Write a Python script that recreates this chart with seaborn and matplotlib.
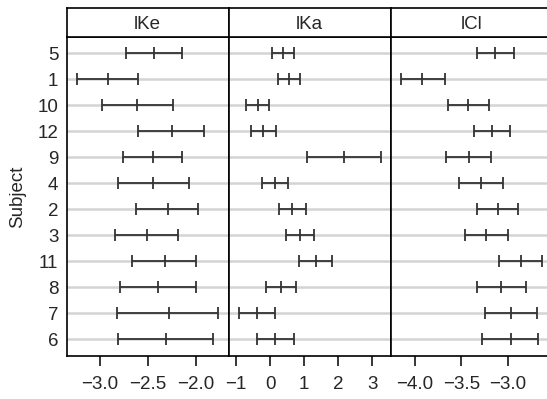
import numpy as np
import pandas as pd
import matplotlib
matplotlib.use("Agg")
import matplotlib.pyplot as plt
import seaborn as sns

# Subjects, top to bottom
subjects = ["5", "1", "10", "12", "9", "4", "2", "3", "11", "8", "7", "6"]

# lKe: lower, estimate, upper
lke_lower = [-2.73, -3.24, -2.98, -2.60, -2.76, -2.81, -2.62, -2.84, -2.66, -2.79, -2.82, -2.81]
lke_est   = [-2.43, -2.92, -2.61, -2.25, -2.45, -2.44, -2.29, -2.51, -2.32, -2.39, -2.28, -2.31]
lke_upper = [-2.14, -2.60, -2.24, -1.91, -2.14, -2.07, -1.97, -2.18, -1.99, -1.99, -1.76, -1.82]

# lKa: lower, estimate, upper
lka_lower = [0.06, 0.24, -0.71, -0.55, 1.08, -0.24, 0.27, 0.47, 0.84, -0.13, -0.92, -0.40]
lka_est   = [0.37, 0.56, -0.37, -0.20, 2.18, 0.14, 0.65, 0.88, 1.34, 0.31, -0.40, 0.14]
lka_upper = [0.69, 0.89, -0.03, 0.17, 3.27, 0.53, 1.05, 1.30, 1.83, 0.75, 0.13, 0.69]

# lCl: lower, estimate, upper
lcl_lower = [-3.33, -4.15, -3.65, -3.37, -3.67, -3.53, -3.33, -3.46, -3.10, -3.33, -3.25, -3.28]
lcl_est   = [-3.14, -3.92, -3.43, -3.17, -3.42, -3.29, -3.11, -3.24, -2.86, -3.07, -2.97, -2.97]
lcl_upper = [-2.94, -3.68, -3.20, -2.98, -3.18, -3.05, -2.89, -3.00, -2.63, -2.81, -2.69, -2.68]

panel_names = ["lKe", "lKa", "lCl"]
panel_ticks = [[-3.0, -2.5, -2.0], [-1, 0, 1, 2, 3], [-4.0, -3.5, -3.0]]
panel_ticklabels = [["\u22123.0", "\u22122.5", "\u22122.0"],
                    ["\u22121", "0", "1", "2", "3"],
                    ["\u22124.0", "\u22123.5", "\u22123.0"]]
panel_xlim = [(-3.348, -1.653), (-1.218, 3.547), (-4.261, -2.519)]

rows = []
for name, lo, est, up in zip(panel_names,
                             [lke_lower, lka_lower, lcl_lower],
                             [lke_est, lka_est, lcl_est],
                             [lke_upper, lka_upper, lcl_upper]):
    for i, s in enumerate(subjects):
        rows.append({"param": name, "Subject": s, "pos": i,
                     "lower": lo[i], "est": est[i], "upper": up[i]})
df = pd.DataFrame(rows)

sns.set_theme(style="white")
plt.rcParams["font.family"] = ["Liberation Sans", "DejaVu Sans"]
plt.rcParams["axes.unicode_minus"] = True

W, H = 547, 399
fig = plt.figure(figsize=(W / 100, H / 100), dpi=100)

edges = [66.7, 228.7, 390.7, 552.7]
p_top, p_bot = 37.0, 355.7
s_top = 8.3
line_col = "#333333"
grid_col = "#d4d4d4"

for k, name in enumerate(panel_names):
    x0, x1 = edges[k], edges[k + 1]
    ax = fig.add_axes([x0 / W, (H - p_bot) / H, (x1 - x0) / W, (p_bot - p_top) / H])
    sub = df[df["param"] == name]

    ax.set_yticks(range(len(subjects)))
    ax.yaxis.grid(True, color=grid_col, lw=1.8, zorder=0)
    ax.xaxis.grid(False)

    ax.hlines(sub["pos"], sub["lower"], sub["upper"], color=line_col, lw=1.3, zorder=3)
    for col in ["lower", "est", "upper"]:
        sns.scatterplot(data=sub, x=col, y="pos", marker="|", s=80,
                        color=line_col, linewidth=1.3, ax=ax, zorder=4, legend=False)

    ax.set_xlim(*panel_xlim[k])
    ax.set_ylim(len(subjects) - 1 + 0.63, -0.63)
    ax.set_xticks(panel_ticks[k])
    ax.set_xticklabels(panel_ticklabels[k])
    ax.set_xlabel("")
    ax.set_ylabel("")
    ax.tick_params(axis="x", direction="out", length=7.5, width=1.1, color="black",
                   labelsize=13.5, pad=7, bottom=True)
    if k == 0:
        ax.set_yticklabels(subjects)
        ax.tick_params(axis="y", length=0, labelsize=13.5, pad=6, left=False)
        ax.set_ylabel("Subject", fontsize=13.5, labelpad=8)
    else:
        ax.set_yticklabels([])
        ax.tick_params(axis="y", length=0, left=False)
    for sp in ax.spines.values():
        sp.set_color("black")
        sp.set_linewidth(1.2)

    # strip above the panel
    sax = fig.add_axes([x0 / W, (H - p_top) / H, (x1 - x0) / W, (p_top - s_top) / H])
    sax.set_xticks([])
    sax.set_yticks([])
    sax.set_facecolor("white")
    for sp in sax.spines.values():
        sp.set_color("black")
        sp.set_linewidth(1.2)
    sax.text(0.5, 0.45, name, ha="center", va="center", fontsize=13.5,
             transform=sax.transAxes)

fig.savefig("out.png", dpi=100)
